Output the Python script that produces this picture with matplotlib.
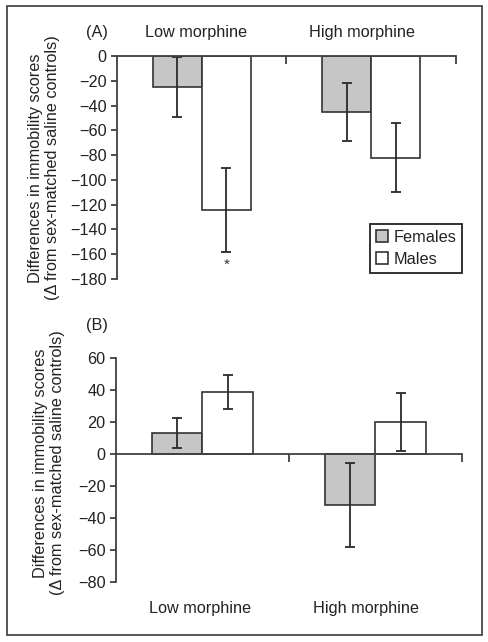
import matplotlib
matplotlib.use("Agg")
import matplotlib.pyplot as plt
from matplotlib.patches import Rectangle
import numpy as np

plt.rcParams['font.family'] = ['Liberation Sans', 'DejaVu Sans']

categories = ["Low morphine", "High morphine"]
series = ["Females", "Males"]
# Panel A
a_females = [-25, -45.5]
a_females_err = [24.5, 23.5]
a_males = [-124, -82]
a_males_err = [34, 28]
a_yticks = [0, -20, -40, -60, -80, -100, -120, -140, -160, -180]
# Panel B
b_females = [13, -32]
b_females_err = [9.6, 26.3]
b_males = [38.6, 19.8]
b_males_err = [10.7, 18.3]
b_yticks = [60, 40, 20, 0, -20, -40, -60, -80]

W, H = 489, 642
fig = plt.figure(figsize=(W / 100, H / 100), dpi=100)

def fx(px):
    return px / W

def fy(py):
    return 1 - py / H

# outer frame
fig.patches.append(Rectangle((fx(7), fy(635)), fx(482) - fx(7), fy(6) - fy(635),
                             transform=fig.transFigure, fill=False,
                             edgecolor='#3a3a3a', lw=1.2))

FS = 11.7
edge = '#333333'
gray = '#c6c6c6'
axcol = '#404040'
txtcol = '#222222'
bw = 0.29

def style_axis(ax):
    ax.spines['right'].set_visible(False)
    ax.spines['left'].set_color(axcol)
    ax.spines['left'].set_linewidth(1.3)
    ax.tick_params(axis='y', direction='out', length=4, width=1.3, color=axcol,
                   labelsize=FS, pad=3.5, labelcolor=txtcol)
    ax.set_xlim(-0.5, 1.5)
    ax.patch.set_alpha(0)

def draw_bars(ax, f, fe, m, me):
    x = np.arange(len(categories))
    ekw = dict(ecolor='#2a2a2a', elinewidth=1.3, capsize=3.5, capthick=1.3)
    ax.bar(x - bw / 2, f, bw, color=gray, edgecolor=edge, linewidth=1.2,
           yerr=fe, error_kw=ekw, label=series[0], zorder=2)
    ax.bar(x + bw / 2, m, bw, color='white', edgecolor=edge, linewidth=1.2,
           yerr=me, error_kw=ekw, label=series[1], zorder=2)

def fmt(v):
    return str(v).replace('-', '\u2212')

# ---------- Panel A ----------
axA = fig.add_axes([fx(117), fy(279), fx(456) - fx(117), fy(56) - fy(279)])
style_axis(axA)
axA.spines['bottom'].set_visible(False)
axA.spines['top'].set_color(axcol)
axA.spines['top'].set_linewidth(1.3)
axA.set_ylim(-180, 0)
axA.set_yticks(a_yticks)
axA.set_yticklabels([fmt(v) for v in a_yticks])
axA.xaxis.set_ticks_position('top')
axA.set_xticks([0.5, 1.5])
axA.set_xticklabels([])
axA.tick_params(axis='x', direction='in', length=6, width=1.3, color=axcol)
draw_bars(axA, a_females, a_females_err, a_males, a_males_err)
axA.annotate('*', xy=(0 + bw / 2, a_males[0] - a_males_err[0]), xytext=(0, -9.5),
             textcoords='offset points', ha='center', va='center', fontsize=11,
             color='#333333')

fig.text(fx(97), fy(32), "(A)", ha='center', va='center', fontsize=FS, color=txtcol)
fig.text(fx(196), fy(32), categories[0], ha='center', va='center', fontsize=FS, color=txtcol)
fig.text(fx(362), fy(32), categories[1], ha='center', va='center', fontsize=FS, color=txtcol)

ylab = "Differences in immobility scores\n(\u0394 from sex-matched saline controls)"
fig.text(fx(44), fy(168), ylab, rotation=90, ha='center', va='center',
         fontsize=FS, color=txtcol, multialignment='center', linespacing=1.15)

leg = axA.legend(loc='upper right', bbox_to_anchor=(fx(462), fy(224)),
                 bbox_transform=fig.transFigure, borderaxespad=0,
                 fancybox=False, edgecolor='#222222', fontsize=FS,
                 handlelength=0.75, handleheight=0.75, handletextpad=0.35,
                 borderpad=0.35, labelspacing=0.45, framealpha=1)
leg.get_frame().set_linewidth(1.3)
for t in leg.get_texts():
    t.set_color(txtcol)

# ---------- Panel B ----------
axB = fig.add_axes([fx(116), fy(581.7), fx(462) - fx(116), fy(358) - fy(581.7)])
style_axis(axB)
axB.spines['top'].set_visible(False)
axB.spines['bottom'].set_position(('data', 0))
axB.spines['bottom'].set_color(axcol)
axB.spines['bottom'].set_linewidth(1.3)
axB.set_ylim(-80, 60)
axB.set_yticks(b_yticks)
axB.set_yticklabels([fmt(v) for v in b_yticks])
axB.set_xticks([0.5, 1.5])
axB.set_xticklabels([])
axB.tick_params(axis='x', direction='out', length=6, width=1.3, color=axcol)
draw_bars(axB, b_females, b_females_err, b_males, b_males_err)

fig.text(fx(97), fy(326), "(B)", ha='center', va='center', fontsize=FS, color=txtcol)
fig.text(fx(200), fy(608), categories[0], ha='center', va='center', fontsize=FS, color=txtcol)
fig.text(fx(366), fy(608), categories[1], ha='center', va='center', fontsize=FS, color=txtcol)
fig.text(fx(49), fy(463), ylab, rotation=90, ha='center', va='center',
         fontsize=FS, color=txtcol, multialignment='center', linespacing=1.15)

fig.savefig("out.png", dpi=100)
